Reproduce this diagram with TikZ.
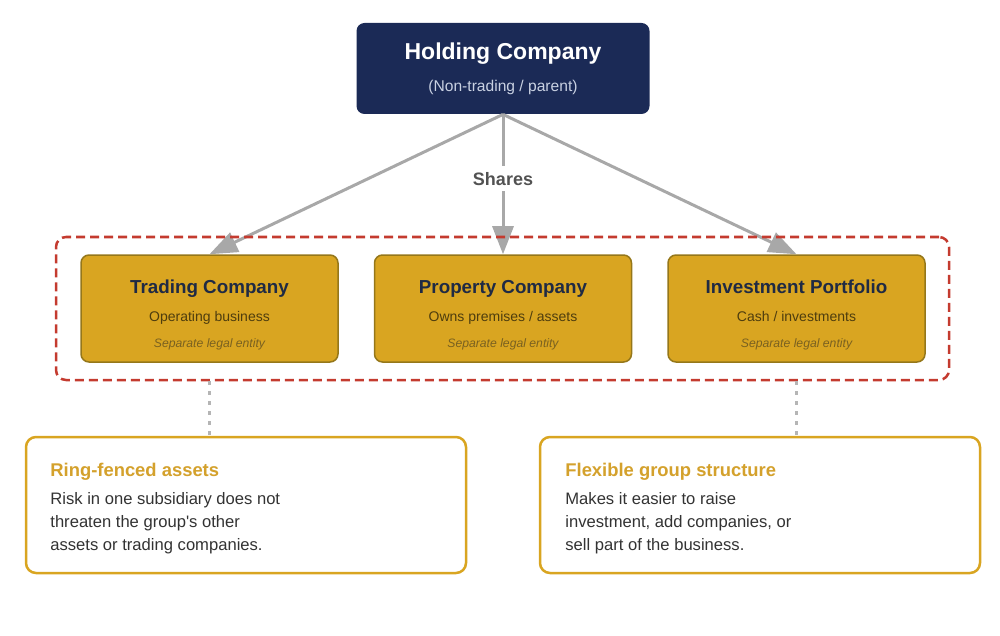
\documentclass[tikz,border=0pt]{standalone}
\usepackage{fontspec}
\setmainfont{Liberation Sans}
\usetikzlibrary{arrows.meta,positioning,calc}
\definecolor{grpnavy}{HTML}{1B2A56}
\definecolor{grpgold}{HTML}{D9A521}
\definecolor{grpgoldline}{HTML}{95771A}
\definecolor{grpink}{HTML}{1F2A44}
\definecolor{grpbrown}{HTML}{4E3D0E}
\definecolor{grpitalic}{HTML}{7A6120}
\definecolor{grpred}{HTML}{C43B2F}
\definecolor{grpgrey}{HTML}{A8A8A8}
\definecolor{grptext}{HTML}{333333}
\definecolor{grphead}{HTML}{D4A12C}
\definecolor{grppale}{HTML}{C9D1E2}

\begin{document}
\begin{tikzpicture}[x=0.5pt,y=-0.5pt,
    holdbox/.style={fill=grpnavy,rounded corners=4pt,minimum width=146.5pt,minimum height=45.5pt},
    subbox/.style={fill=grpgold,draw=grpgoldline,line width=0.75pt,rounded corners=4pt,
      minimum width=128.5pt,minimum height=53.5pt},
    notebox/.style={fill=white,draw=grpgold,line width=1.25pt,rounded corners=5pt,
      minimum width=220pt,minimum height=68pt},
    subtitle/.style={anchor=base,text=grpink,font=\bfseries\fontsize{9.4}{11}\selectfont},
    subtext/.style={anchor=base,text=grpbrown,font=\fontsize{7}{8.5}\selectfont},
    subnote/.style={anchor=base,text=grpitalic,font=\itshape\fontsize{6.1}{7.5}\selectfont},
    notehead/.style={anchor=base west,text=grphead,font=\bfseries\fontsize{9.2}{11}\selectfont,inner sep=0pt},
    notetext/.style={anchor=base west,text=grptext,font=\fontsize{8.3}{10}\selectfont,inner sep=0pt},
    share/.style={draw=grpgrey,line width=1.5pt,-{Triangle[length=14pt,width=10.5pt]}},
    link/.style={draw=grpgrey!85,line width=1.2pt,dash pattern=on 2pt off 3pt}]
  \useasboundingbox (0,0) rectangle (1000,636);

  % parent company
  \node[holdbox] (hold) at (503,68.5) {};
  \node[anchor=base,text=white,font=\bfseries\fontsize{11.5}{13}\selectfont] (hold-t) at (503,60) {Holding Company};
  \node[anchor=base,text=grppale,font=\fontsize{7.8}{9}\selectfont] (hold-s) at (503,91.5) {(Non-trading / parent)};

  % subsidiaries
  \node[subbox] (trade) at (209.5,308.5) {};
  \node[subbox] (prop) at (503,308.5) {};
  \node[subbox] (invest) at (796.5,308.5) {};
  \node[subtitle] (trade-t) at (209.5,293.5) {Trading Company};
  \node[subtext] (trade-s) at (209.5,321) {Operating business};
  \node[subnote] (trade-n) at (209.5,347.5) {Separate legal entity};
  \node[subtitle] (prop-t) at (503,293.5) {Property Company};
  \node[subtext] (prop-s) at (503,321) {Owns premises / assets};
  \node[subnote] (prop-n) at (503,347.5) {Separate legal entity};
  \node[subtitle] (invest-t) at (796.5,293.5) {Investment Portfolio};
  \node[subtext] (invest-s) at (796.5,321) {Cash / investments};
  \node[subnote] (invest-n) at (796.5,347.5) {Separate legal entity};

  % shareholdings
  \draw[share] (hold.south) -- (trade.north);
  \draw[share] (hold.south) -- node[pos=0.46,fill=white,text=grptext!85,inner sep=3pt,
    font=\bfseries\fontsize{9}{11}\selectfont] (shares) {Shares} (prop.north);
  \draw[share] (hold.south) -- (invest.north);

  % ring-fence around the subsidiaries
  \node[draw=grpred,line width=1.25pt,dash pattern=on 4.5pt off 2.5pt,rounded corners=5pt,
    minimum width=446.5pt,minimum height=71.5pt] (frame) at (502.5,308.5) {};

  % notes
  \node[notebox] (ring) at (246,505) {};
  \node[notebox] (flex) at (760,505) {};
  \draw[link] (trade.south |- frame.south) -- (trade.south |- ring.north);
  \draw[link] (invest.south |- frame.south) -- (invest.south |- flex.north);

  \node[notehead] (ring-h) at (50,476) {Ring-fenced assets};
  \foreach \txt [count=\i] in {Risk in one subsidiary does not,threaten the group\textquotesingle s other,assets or trading companies.}
    \node[notetext] (ring-l\i) at (50,{504+23*(\i-1)}) {\txt};
  \node[notehead] (flex-h) at (565,476) {Flexible group structure};
  \foreach \txt [count=\i] in {Makes it easier to raise,{investment, add companies, or},sell part of the business.}
    \node[notetext] (flex-l\i) at (565,{504+23*(\i-1)}) {\txt};
\end{tikzpicture}
\end{document}
